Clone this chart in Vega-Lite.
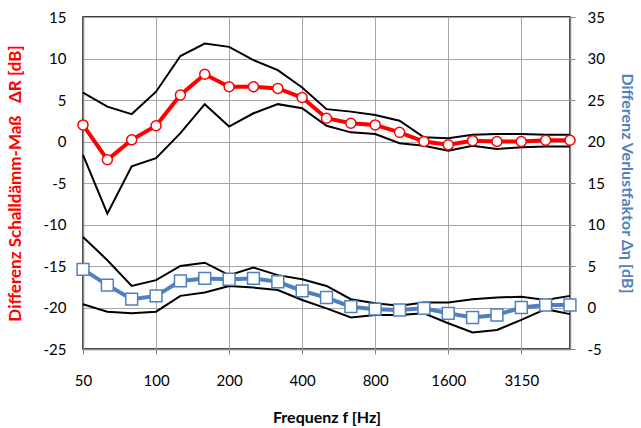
{
  "$schema": "https://vega.github.io/schema/vega-lite/v6.json",
  "width": 487,
  "height": 332,
  "autosize": {"type": "none"},
  "padding": {"left": 83, "top": 17, "right": 71, "bottom": 79},
  "background": "white",
  "config": {
    "font": "Lato",
    "view": {"stroke": "#000000", "strokeWidth": 1.5},
    "axis": {
      "labelFont": "Lato",
      "titleFont": "Lato",
      "labelFontSize": 15,
      "labelColor": "#000000",
      "titleFontSize": 17,
      "domainColor": "#868686",
      "domainWidth": 1.5,
      "tickColor": "#868686",
      "gridColor": "#A6A6A6",
      "gridWidth": 1
    }
  },
  "data": {
    "values": [
      {"f": "50", "R": 2.0, "Rmax": 5.9, "Rmin": -1.6, "eta": 4.6, "etaMax": 8.5, "etaMin": 0.4},
      {"f": "63", "R": -2.2, "Rmax": 4.2, "Rmin": -8.7, "eta": 2.7, "etaMax": 5.7, "etaMin": -0.5},
      {"f": "80", "R": 0.2, "Rmax": 3.3, "Rmin": -3.0, "eta": 1.0, "etaMax": 2.6, "etaMin": -0.7},
      {"f": "100", "R": 1.9, "Rmax": 6.0, "Rmin": -2.0, "eta": 1.4, "etaMax": 3.3, "etaMin": -0.5},
      {"f": "125", "R": 5.6, "Rmax": 10.3, "Rmin": 1.0, "eta": 3.2, "etaMax": 5.0, "etaMin": 1.4},
      {"f": "160", "R": 8.1, "Rmax": 11.8, "Rmin": 4.5, "eta": 3.5, "etaMax": 5.4, "etaMin": 1.8},
      {"f": "200", "R": 6.6, "Rmax": 11.4, "Rmin": 1.8, "eta": 3.4, "etaMax": 3.9, "etaMin": 2.6},
      {"f": "250", "R": 6.6, "Rmax": 9.8, "Rmin": 3.4, "eta": 3.5, "etaMax": 4.8, "etaMin": 2.4},
      {"f": "315", "R": 6.4, "Rmax": 8.6, "Rmin": 4.5, "eta": 3.1, "etaMax": 3.9, "etaMin": 2.1},
      {"f": "400", "R": 5.3, "Rmax": 6.5, "Rmin": 4.0, "eta": 2.0, "etaMax": 3.4, "etaMin": 0.9},
      {"f": "500", "R": 2.8, "Rmax": 3.9, "Rmin": 1.9, "eta": 1.2, "etaMax": 2.6, "etaMin": -0.1},
      {"f": "630", "R": 2.2, "Rmax": 3.6, "Rmin": 1.1, "eta": 0.1, "etaMax": 1.0, "etaMin": -1.2},
      {"f": "800", "R": 2.0, "Rmax": 3.2, "Rmin": 0.9, "eta": -0.2, "etaMax": 0.5, "etaMin": -0.9},
      {"f": "1000", "R": 1.1, "Rmax": 2.5, "Rmin": -0.2, "eta": -0.3, "etaMax": 0.2, "etaMin": -0.9},
      {"f": "1250", "R": 0.0, "Rmax": 0.5, "Rmin": -0.5, "eta": -0.1, "etaMax": 0.6, "etaMin": -0.7},
      {"f": "1600", "R": -0.4, "Rmax": 0.4, "Rmin": -1.1, "eta": -0.7, "etaMax": 0.6, "etaMin": -1.9},
      {"f": "2000", "R": 0.1, "Rmax": 0.8, "Rmin": -0.5, "eta": -1.2, "etaMax": 1.0, "etaMin": -3.0},
      {"f": "2500", "R": 0.0, "Rmax": 0.9, "Rmin": -0.9, "eta": -0.9, "etaMax": 1.2, "etaMin": -2.7},
      {"f": "3150", "R": 0.0, "Rmax": 0.9, "Rmin": -0.7, "eta": 0.0, "etaMax": 1.3, "etaMin": -1.5},
      {"f": "4000", "R": 0.15, "Rmax": 0.8, "Rmin": -0.6, "eta": 0.3, "etaMax": 0.9, "etaMin": -0.2},
      {"f": "5000", "R": 0.15, "Rmax": 0.8, "Rmin": -0.6, "eta": 0.3, "etaMax": 1.4, "etaMin": -0.8}
    ]
  },
  "encoding": {
    "x": {
      "field": "f",
      "type": "ordinal",
      "sort": null,
      "scale": {"type": "point", "padding": 0},
      "axis": {
        "values": ["50", "100", "200", "400", "800", "1600", "3150"],
        "labelAngle": 0,
        "grid": true,
        "tickSize": 5,
        "labelPadding": 19,
        "title": "Frequenz f [Hz]",
        "titleFontWeight": "bold",
        "titleFontSize": 16,
        "titleColor": "#000000",
        "titlePadding": 21
      }
    }
  },
  "layer": [
    {
      "layer": [
        {
          "mark": {"type": "line", "color": "#000000", "strokeWidth": 2},
          "encoding": {
            "y": {"field": "Rmax", "type": "quantitative",
              "scale": {"domain": [-25, 15], "nice": false, "zero": false},
              "axis": {"values": [-25, -20, -15, -10, -5, 0, 5, 10, 15], "labelExpr": "'' + datum.value", "grid": true, "ticks": false, "labelPadding": 17,
                "title": "Differenz Schalldämm-Maß\u00a0\u00a0\u00a0ΔR [dB]", "titleColor": "#FF0000", "titleFontWeight": "bold", "titlePadding": 19}}
          }
        },
        {
          "mark": {"type": "line", "color": "#000000", "strokeWidth": 2},
          "encoding": {
            "y": {"field": "Rmin", "type": "quantitative",
              "scale": {"domain": [-25, 15], "nice": false, "zero": false},
              "axis": {"values": [-25, -20, -15, -10, -5, 0, 5, 10, 15], "labelExpr": "'' + datum.value", "grid": true, "ticks": false, "labelPadding": 17,
                "title": "Differenz Schalldämm-Maß\u00a0\u00a0\u00a0ΔR [dB]", "titleColor": "#FF0000", "titleFontWeight": "bold", "titlePadding": 19}}
          }
        },
        {
          "mark": {"type": "line", "color": "#FF0000", "strokeWidth": 4},
          "encoding": {
            "y": {"field": "R", "type": "quantitative",
              "scale": {"domain": [-25, 15], "nice": false, "zero": false},
              "axis": {"values": [-25, -20, -15, -10, -5, 0, 5, 10, 15], "labelExpr": "'' + datum.value", "grid": true, "ticks": false, "labelPadding": 17,
                "title": "Differenz Schalldämm-Maß\u00a0\u00a0\u00a0ΔR [dB]", "titleColor": "#FF0000", "titleFontWeight": "bold", "titlePadding": 19}}
          }
        },
        {
          "mark": {"type": "point", "shape": "circle", "filled": true, "fill": "#FFFFFF", "stroke": "#FF0000", "strokeWidth": 1.5, "size": 100, "opacity": 1},
          "encoding": {
            "y": {"field": "R", "type": "quantitative",
              "scale": {"domain": [-25, 15], "nice": false, "zero": false},
              "axis": {"values": [-25, -20, -15, -10, -5, 0, 5, 10, 15], "labelExpr": "'' + datum.value", "grid": true, "ticks": false, "labelPadding": 17,
                "title": "Differenz Schalldämm-Maß\u00a0\u00a0\u00a0ΔR [dB]", "titleColor": "#FF0000", "titleFontWeight": "bold", "titlePadding": 19}}
          }
        }
      ]
    },
    {
      "layer": [
        {
          "mark": {"type": "line", "color": "#000000", "strokeWidth": 2},
          "encoding": {
            "y": {"field": "etaMax", "type": "quantitative",
              "scale": {"domain": [-5, 35], "nice": false, "zero": false},
              "axis": {"orient": "right", "values": [-5, 0, 5, 10, 15, 20, 25, 30, 35], "labelExpr": "'' + datum.value", "grid": false, "tickSize": 5, "labelPadding": 12,
                "title": "Differenz Verlustfaktor Δη [dB]", "titleColor": "#4F81BD", "titleFontWeight": "bold", "titleFontSize": 16, "titlePadding": 14}}
          }
        },
        {
          "mark": {"type": "line", "color": "#000000", "strokeWidth": 2},
          "encoding": {
            "y": {"field": "etaMin", "type": "quantitative",
              "scale": {"domain": [-5, 35], "nice": false, "zero": false},
              "axis": {"orient": "right", "values": [-5, 0, 5, 10, 15, 20, 25, 30, 35], "labelExpr": "'' + datum.value", "grid": false, "tickSize": 5, "labelPadding": 12,
                "title": "Differenz Verlustfaktor Δη [dB]", "titleColor": "#4F81BD", "titleFontWeight": "bold", "titleFontSize": 16, "titlePadding": 14}}
          }
        },
        {
          "mark": {"type": "line", "color": "#4F81BD", "strokeWidth": 4},
          "encoding": {
            "y": {"field": "eta", "type": "quantitative",
              "scale": {"domain": [-5, 35], "nice": false, "zero": false},
              "axis": {"orient": "right", "values": [-5, 0, 5, 10, 15, 20, 25, 30, 35], "labelExpr": "'' + datum.value", "grid": false, "tickSize": 5, "labelPadding": 12,
                "title": "Differenz Verlustfaktor Δη [dB]", "titleColor": "#4F81BD", "titleFontWeight": "bold", "titleFontSize": 16, "titlePadding": 14}}
          }
        },
        {
          "mark": {"type": "point", "shape": "square", "filled": true, "fill": "#FFFFFF", "stroke": "#4F81BD", "strokeWidth": 1.5, "size": 140, "opacity": 1},
          "encoding": {
            "y": {"field": "eta", "type": "quantitative",
              "scale": {"domain": [-5, 35], "nice": false, "zero": false},
              "axis": {"orient": "right", "values": [-5, 0, 5, 10, 15, 20, 25, 30, 35], "labelExpr": "'' + datum.value", "grid": false, "tickSize": 5, "labelPadding": 12,
                "title": "Differenz Verlustfaktor Δη [dB]", "titleColor": "#4F81BD", "titleFontWeight": "bold", "titleFontSize": 16, "titlePadding": 14}}
          }
        }
      ]
    }
  ],
  "resolve": {"scale": {"y": "independent"}}
}
